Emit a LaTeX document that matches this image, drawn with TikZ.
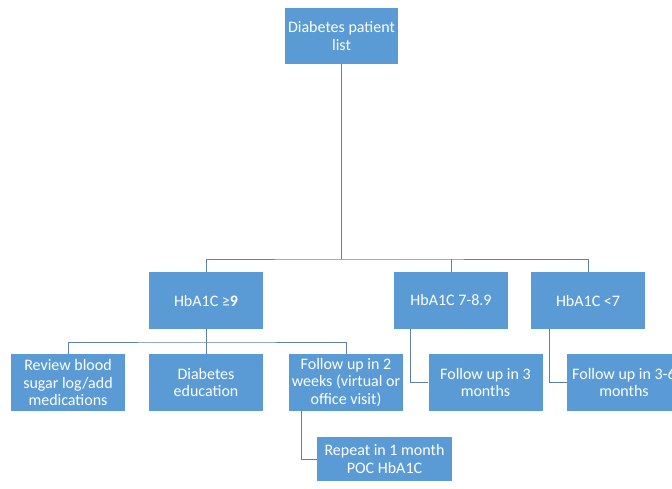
\documentclass[tikz,border=0pt]{standalone}
\usepackage{fontspec}
\setmainfont{Carlito}
\usetikzlibrary{positioning}

\definecolor{boxblue}{HTML}{5B9BD5}
\definecolor{linkblue}{HTML}{5E82A3}

\tikzset{
	card/.style={fill=boxblue,text=white,inner sep=0pt,align=center,
		minimum width=114pt,minimum height=57pt,
		font=\fontsize{16}{17.5}\selectfont},
	link/.style={draw=linkblue,line width=0.9pt}
}

\begin{document}
\begin{tikzpicture}[x=1pt,y=-1pt]

\useasboundingbox (0,0) rectangle (672,488);
\clip (0,0) rectangle (672,488);

% top level
\node [card,minimum width=113pt,minimum height=56pt] at (341.5,36) (list) {Diabetes patient\\list};

% HbA1C groups
\node [card] at (206,300.5) (high) {HbA1C ≥\textbf{9}};
\node [card] at (451,300.5) (mid)  {HbA1C 7-8.9};
\node [card] at (588,300.5) (low)  {HbA1C <7};

% actions
\node [card] at (68,382.5)    (review) {Review blood\\sugar log/add\\medications};
\node [card] at (206,382.5)   (edu)    {Diabetes\\education};
\node [card] at (346,382.5)   (fu2)    {Follow up in 2\\weeks (virtual or\\office visit)};
\node [card] at (485.5,382.5) (fu3)    {Follow up in 3\\months};
\node [card] at (624,382.5)   (fu36)   {Follow up in 3-6\\months};
\node [card,minimum width=135pt,minimum height=44pt] at (384.5,459) (repeat) {Repeat in 1 month\\POC HbA1C};

%%%%%%%%%%%%%%%%%%%%%%%%%%%%%%%%%%%%%%%%%%%%%%%%%%%%%%%%%%%%%%%%

\coordinate (j1) at (341.5,259);
\coordinate (j2) at (206,342);

\draw [link] (list) -- (j1);
\draw [link] (high.north) |- (j1) -| (low.north);
\draw [link] (mid.north) -- (mid.north |- j1);

\draw [link] (high) -- (edu);
\draw [link] (review.north) |- (j2) -| (fu2.north);

\draw [link] ([xshift=-45pt]fu2.south) |- (repeat.west);
\draw [link] ([xshift=-41pt]mid.south) |- (fu3.west);
\draw [link] ([xshift=-39pt]low.south) |- (fu36.west);

\end{tikzpicture}
\end{document}
